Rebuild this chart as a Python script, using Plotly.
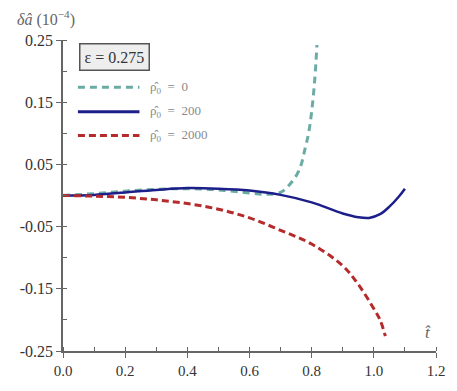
import plotly.graph_objects as go

# data
t_rho0 = [0, 0.1, 0.2, 0.3, 0.4, 0.5, 0.6, 0.65, 0.7, 0.73, 0.76, 0.78, 0.79, 0.80, 0.81, 0.817]
a_rho0 = [0, 0.003, 0.007, 0.010, 0.011, 0.009, 0.004, 0.002, 0.005, 0.018, 0.041, 0.078, 0.100, 0.135, 0.187, 0.242]

t_rho200 = [0, 0.1, 0.2, 0.3, 0.4, 0.5, 0.6, 0.7, 0.8, 0.9, 0.95, 0.985, 1.02, 1.05, 1.08, 1.1]
a_rho200 = [0, 0.001, 0.005, 0.009, 0.012, 0.011, 0.008, 0.001, -0.011, -0.029, -0.035, -0.036, -0.030, -0.018, -0.002, 0.011]

t_rho2000 = [0, 0.1, 0.2, 0.3, 0.4, 0.5, 0.6, 0.7, 0.8, 0.9, 0.95, 1.0, 1.02, 1.037]
a_rho2000 = [0, -0.001, -0.003, -0.007, -0.013, -0.022, -0.036, -0.056, -0.078, -0.113, -0.143, -0.182, -0.200, -0.226]

series_names = ["ρ̂<sub>0</sub>  =  0", "ρ̂<sub>0</sub>  =  200", "ρ̂<sub>0</sub>  =  2000"]
series_colors = ["#6aaca4", "#1c1f8a", "#b52a2a"]
series_dash = ["7px,5px", "solid", "7px,4px"]

x_ticks = [0.0, 0.2, 0.4, 0.6, 0.8, 1.0, 1.2]
y_ticks = [0.25, 0.15, 0.05, -0.05, -0.15, -0.25]

AXIS = dict(
    showgrid=False,
    zeroline=False,
    showline=True,
    linecolor="#666666",
    linewidth=1.5,
    ticks="outside",
    ticklen=5,
    tickcolor="#666666",
    minor=dict(ticks="inside", ticklen=4, tickcolor="#666666"),
)

fig = go.Figure()
for t, a, name, color, dash in zip(
    [t_rho0, t_rho200, t_rho2000],
    [a_rho0, a_rho200, a_rho2000],
    series_names, series_colors, series_dash,
):
    fig.add_trace(go.Scatter(
        x=t, y=a, name=name, mode="lines",
        line=dict(color=color, width=3 if dash != "solid" else 2.5, dash=dash, shape="spline"),
        showlegend=False,
    ))

# page body has an 8px margin, so the figure is 8px smaller and margins shifted
fig.update_layout(
    width=449, height=383,
    paper_bgcolor="white", plot_bgcolor="white",
    margin=dict(l=50, r=17, t=32, b=35),
    xaxis=dict(
        **AXIS, range=[0, 1.2],
        tickvals=x_ticks, ticktext=[f"{v:.1f}" for v in x_ticks],
        tickfont=dict(family="Liberation Serif", size=15, color="#333333"),
    ),
    yaxis=dict(
        **AXIS, range=[-0.25, 0.25],
        tickvals=y_ticks, ticktext=[f"{v:.2f}" for v in y_ticks],
        tickfont=dict(family="Liberation Serif", size=16, color="#333333"),
    ),
)
fig.update_xaxes(minor_dtick=0.1)
fig.update_yaxes(minor_dtick=0.05)

# manual legend
legend_y = [0.848, 0.769, 0.693]
for name, color, dash, yy in zip(series_names, series_colors, series_dash, legend_y):
    fig.add_shape(type="line", xref="paper", yref="paper", x0=0.04, x1=0.205, y0=yy, y1=yy,
                  line=dict(color=color, width=3, dash=dash))
    fig.add_annotation(xref="paper", yref="paper", x=0.228, y=yy, text=name, showarrow=False,
                       xanchor="left", yanchor="middle",
                       font=dict(family="Liberation Serif", size=13, color="#8a8a8a"))

fig.add_annotation(xref="paper", yref="paper", x=0.139, y=0.946, text="ε = 0.275", showarrow=False,
                   xanchor="center", yanchor="middle",
                   font=dict(family="Liberation Serif", size=16, color="#333333"),
                   bgcolor="#eeeeee", bordercolor="#555555", borderwidth=1.5, borderpad=4)

fig.add_annotation(xref="paper", yref="paper", x=-0.13, y=1.07, text="<i>δâ</i> (10<sup>−4</sup>)",
                   showarrow=False, xanchor="left", yanchor="middle",
                   font=dict(family="Liberation Serif", size=16, color="#666666"))
fig.add_annotation(xref="paper", yref="paper", x=0.979, y=0.06, text="<i>t̂</i>",
                   showarrow=False, xanchor="center", yanchor="middle",
                   font=dict(family="Liberation Serif", size=17, color="#666666"))

fig.write_html("out.html")
